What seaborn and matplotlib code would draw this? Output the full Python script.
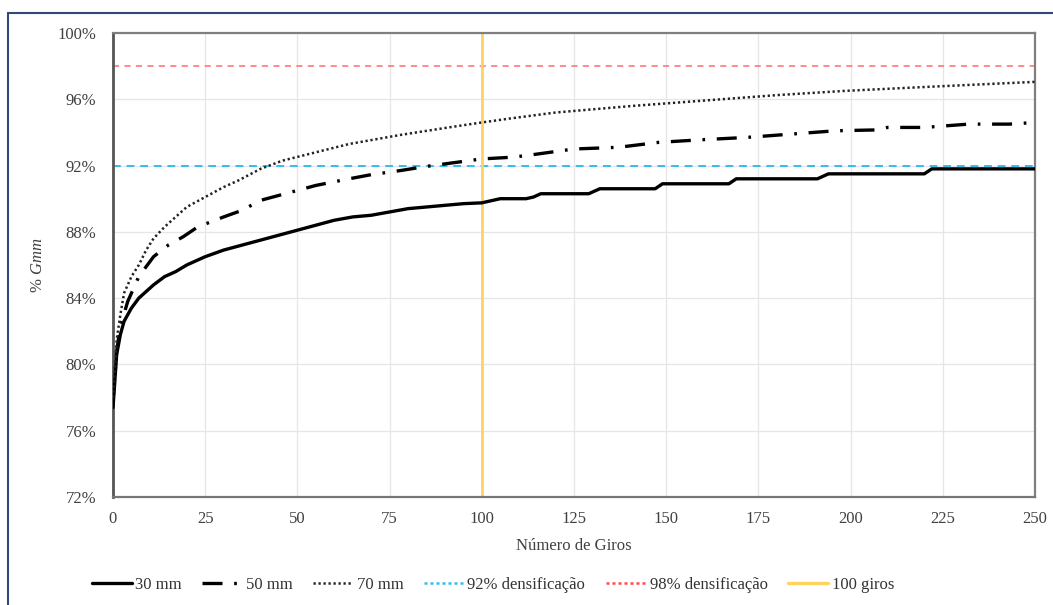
import matplotlib
matplotlib.use("Agg")
import matplotlib.pyplot as plt
import seaborn as sns
import pandas as pd
from matplotlib.lines import Line2D

# Densification curves (% Gmm versus number of gyrations)
giros_30 = [0, 1, 2, 3, 5, 7, 9, 11, 14, 17, 20, 25, 30, 35, 40, 45, 50, 55, 60, 65,
            70, 75, 80, 85, 90, 95, 100, 103, 105, 112, 114, 116, 129, 132, 147, 149,
            167, 169, 191, 194, 220, 222, 250]
gmm_30 = [77.4, 80.6, 81.8, 82.6, 83.4, 84.0, 84.4, 84.8, 85.3, 85.6, 86.0, 86.5, 86.9,
          87.2, 87.5, 87.8, 88.1, 88.4, 88.7, 88.9, 89.0, 89.2, 89.4, 89.5, 89.6, 89.7,
          89.75, 89.9, 90.0, 90.0, 90.1, 90.3, 90.3, 90.6, 90.6, 90.9, 90.9, 91.2, 91.2,
          91.5, 91.5, 91.8, 91.8]

giros_50 = [0, 1, 2, 4, 7, 11, 15, 19, 23, 30, 35, 40, 45, 50, 55, 64, 70, 78, 85, 90,
            100, 108, 112, 125, 137, 148, 159, 172, 181, 184, 196, 207, 210, 220, 232,
            243, 250]
gmm_50 = [77.8, 80.8, 82.3, 83.8, 85.3, 86.5, 87.2, 87.7, 88.3, 88.9, 89.3, 89.9, 90.2,
          90.5, 90.8, 91.2, 91.45, 91.7, 91.95, 92.1, 92.4, 92.5, 92.6, 93.0, 93.1, 93.4,
          93.55, 93.7, 93.85, 93.9, 94.1, 94.15, 94.3, 94.3, 94.5, 94.5, 94.6]

giros_70 = [0, 1, 2, 3, 5, 7, 9, 11, 14, 16, 20, 25, 30, 34, 40, 46, 55, 64, 78, 91,
            100, 108, 120, 141, 159, 180, 198, 221, 250]
gmm_70 = [78.0, 81.5, 83.0, 84.3, 85.3, 86.0, 86.9, 87.6, 88.3, 88.7, 89.5, 90.1, 90.7,
          91.1, 91.8, 92.3, 92.8, 93.3, 93.85, 94.3, 94.6, 94.85, 95.2, 95.6, 95.9,
          96.25, 96.5, 96.75, 97.05]

series_labels = ["30 mm", "50 mm", "70 mm"]
ref_92 = 92.0
ref_98 = 98.0
ref_giros = 100

y_ticks = [72, 76, 80, 84, 88, 92, 96, 100]
x_ticks = [0, 25, 50, 75, 100, 125, 150, 175, 200, 225, 250]

sns.set_theme(style="white")
plt.rcParams["font.family"] = ["Liberation Serif", "DejaVu Serif"]
plt.rcParams["mathtext.fontset"] = "custom"
plt.rcParams["mathtext.rm"] = "Liberation Serif"
plt.rcParams["mathtext.it"] = "Liberation Serif:italic"

fig = plt.figure(figsize=(10.53, 6.05), dpi=100)
ax = fig.add_axes([0.1073, 0.1785, 0.8756, 0.767])

df30 = pd.DataFrame({"giros": giros_30, "gmm": gmm_30})
df50 = pd.DataFrame({"giros": giros_50, "gmm": gmm_50})
df70 = pd.DataFrame({"giros": giros_70, "gmm": gmm_70})

# Reference lines
ax.axhline(ref_92, color="#33BDEB", lw=1.4, linestyle=(0, (4, 3)), zorder=2)
ax.axhline(ref_98, color="#FF6B6B", lw=1.1, linestyle=(0, (4, 3.5)), zorder=2)
ax.axvline(ref_giros, color="#FFD45E", lw=2.0, zorder=2)

sns.lineplot(data=df30, x="giros", y="gmm", ax=ax, color="black", lw=2.4,
             errorbar=None, sort=True, zorder=4)
sns.lineplot(data=df50, x="giros", y="gmm", ax=ax, color="black", lw=2.4,
             linestyle=(0, (6, 3.5, 0.8, 3.5)), errorbar=None, sort=True, zorder=4)
sns.lineplot(data=df70, x="giros", y="gmm", ax=ax, color="#222222", lw=1.8,
             linestyle=(0, (0.9, 1.1)), errorbar=None, sort=True, zorder=4)

ax.set_xlim(0, 250)
ax.set_ylim(72, 100)
ax.set_xticks(x_ticks)
ax.set_yticks(y_ticks)
ax.set_xticklabels([str(t) for t in x_ticks])
ax.set_yticklabels([f"{t}%" for t in y_ticks])
ax.tick_params(axis="both", length=0, labelsize=12, labelcolor="#404040")
ax.tick_params(axis="x", pad=10)
ax.tick_params(axis="y", pad=12)
ax.grid(True, color="#E6E6E6", lw=0.9)
ax.set_axisbelow(True)

for side, sp in ax.spines.items():
    sp.set_visible(True)
    sp.set_color("#7F7F7F")
    sp.set_linewidth(1.6)
ax.spines["left"].set_color("#555555")
ax.spines["left"].set_linewidth(2.0)
ax.spines["bottom"].set_color("#777777")

ax.set_xlabel("Número de Giros", fontsize=12, color="#404040", labelpad=8)
ax.set_ylabel("% $\\mathit{Gmm}$", fontsize=12, color="#404040", labelpad=8)

handles = [
    Line2D([], [], color="black", lw=2.4),
    Line2D([], [], color="black", lw=2.4, linestyle=(0, (6, 3.5, 0.8, 3.5))),
    Line2D([], [], color="#222222", lw=1.8, linestyle=(0, (0.9, 1.1))),
    Line2D([], [], color="#33BDEB", lw=1.8, linestyle=(0, (1.2, 1.2))),
    Line2D([], [], color="#FF4B4B", lw=1.8, linestyle=(0, (1.2, 1.2))),
    Line2D([], [], color="#FFD45E", lw=2.4),
]
labels = series_labels + ["92% densificação", "98% densificação", "100 giros"]
fig.legend(handles, labels, loc="center", bbox_to_anchor=(0.468, 0.033), ncol=6,
           frameon=False, fontsize=12, handlelength=2.4, handletextpad=0.2,
           columnspacing=1.25, labelcolor="#333333")

# Outer chart border (left and top edges)
fig.add_artist(Line2D([8 / 1053, 8 / 1053], [0, 1 - 13 / 605],
                      transform=fig.transFigure, color="#2F4A78", lw=1.5))
fig.add_artist(Line2D([8 / 1053, 1], [1 - 13 / 605, 1 - 13 / 605],
                      transform=fig.transFigure, color="#2F4A78", lw=1.5))

fig.savefig("out.png", dpi=100)
